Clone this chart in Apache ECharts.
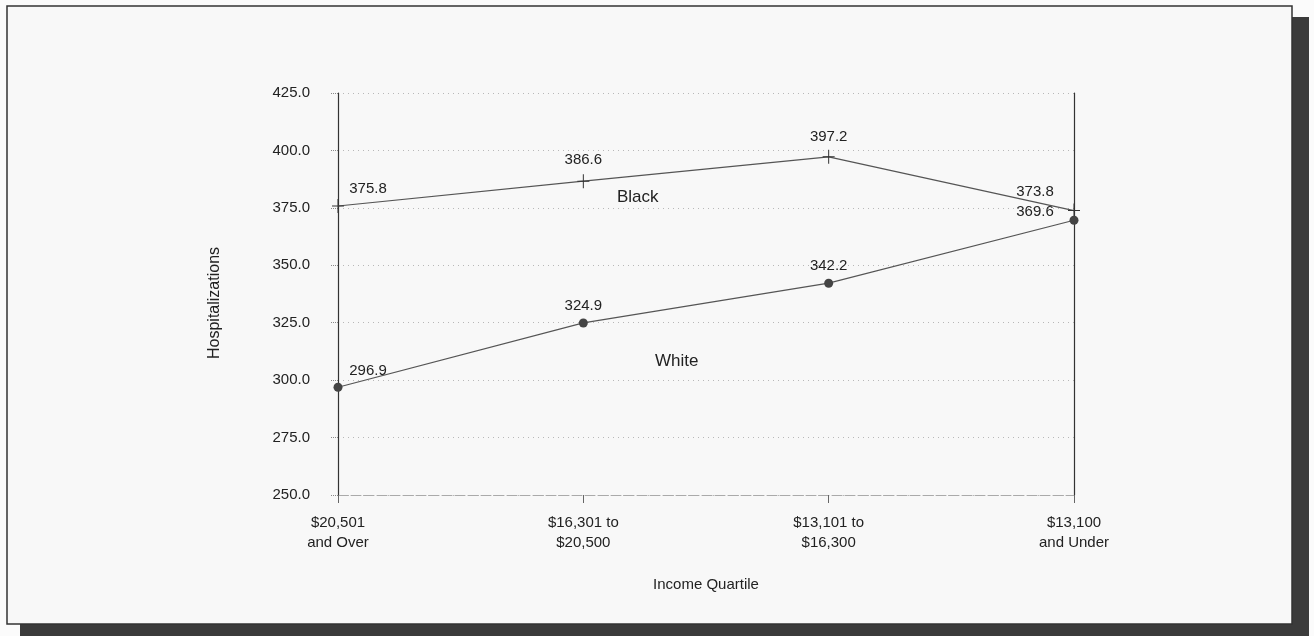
<!DOCTYPE html>
<html>
<head>
<meta charset="utf-8">
<script src="https://cdn.jsdelivr.net/npm/echarts@6/dist/echarts.min.js"></script>
<style>
  html, body { margin: 0; padding: 0; background: #fbfbfb; }
  #chart { width: 1314px; height: 636px; }
</style>
</head>
<body>
<div id="chart"></div>
<script>
// Income quartiles along the x axis
const categories = ['$20,501\nand Over', '$16,301 to\n$20,500', '$13,101 to\n$16,300', '$13,100\nand Under'];
// Hospitalizations by race
const blackValues = [375.8, 386.6, 397.2, 373.8];
const whiteValues = [296.9, 324.9, 342.2, 369.6];
// Y axis range
const yMin = 250, yMax = 425, yStep = 25;

const FONT = '"Liberation Sans", Arial, sans-serif';
const INK = '#222';
const LINE = '#555';

const chart = echarts.init(document.getElementById('chart'), null, { renderer: 'canvas' });

const labelStyle = { color: INK, fontFamily: FONT, fontSize: 15 };

function pointLabels(values, offsets) {
  return values.map((v, i) => ({
    value: v,
    label: Object.assign({ show: true, position: 'inside', offset: offsets[i],
      formatter: p => p.value.toFixed(1) }, labelStyle)
  }));
}

chart.setOption({
  animation: false,
  backgroundColor: '#fbfbfb',
  graphic: [
    // drop shadow behind the panel
    { type: 'rect', z: -10, shape: { x: 1292, y: 17, width: 17, height: 619 }, style: { fill: '#3b3b3b' } },
    { type: 'rect', z: -10, shape: { x: 20, y: 624, width: 1289, height: 12 }, style: { fill: '#3b3b3b' } },
    // panel
    { type: 'rect', z: -9, shape: { x: 7, y: 6, width: 1285, height: 618 },
      style: { fill: '#f8f8f8', stroke: '#333', lineWidth: 1.5 } },
    // series names
    { type: 'text', z: 10, left: 617, top: 189, style: { text: 'Black', fill: INK, font: '17px ' + FONT } },
    { type: 'text', z: 10, left: 655, top: 353, style: { text: 'White', fill: INK, font: '17px ' + FONT } },
    // y axis title
    { type: 'text', z: 10, x: 215, y: 303, rotation: Math.PI / 2,
      style: { text: 'Hospitalizations', fill: INK, font: '16px ' + FONT, align: 'center', verticalAlign: 'middle' } }
  ],
  grid: { left: 338, right: 240, top: 93, bottom: 141, containLabel: false },
  xAxis: {
    type: 'category',
    data: categories,
    boundaryGap: false,
    name: 'Income Quartile',
    nameLocation: 'middle',
    nameGap: 82,
    nameTextStyle: { color: INK, fontFamily: FONT, fontSize: 15 },
    axisLine: { lineStyle: { color: '#aaa', type: [10, 3], width: 1 } },
    axisTick: { show: true, length: 8, lineStyle: { color: '#666' } },
    axisLabel: { color: INK, fontFamily: FONT, fontSize: 15, lineHeight: 20, margin: 18 },
    splitLine: { show: false }
  },
  yAxis: [{
    type: 'value',
    min: yMin, max: yMax, interval: yStep,
    axisLine: { show: true, lineStyle: { color: '#333', width: 1.2 } },
    axisTick: { show: true, length: 8, lineStyle: { color: '#888', type: 'dotted' } },
    axisLabel: { color: INK, fontFamily: FONT, fontSize: 15, margin: 28, formatter: v => v.toFixed(1) },
    splitLine: { show: true, lineStyle: { color: '#b8b8b8', type: [1, 4], width: 1 } }
  }, {
    type: 'value',
    position: 'right',
    min: yMin, max: yMax, interval: yStep,
    axisLine: { show: true, lineStyle: { color: '#333', width: 1.2 } },
    axisTick: { show: false },
    axisLabel: { show: false },
    splitLine: { show: false }
  }],
  series: [{
    name: 'Black',
    type: 'line',
    data: pointLabels(blackValues, [[30, -17], [0, -21], [0, -20], [-39, -19]]),
    symbol: 'path://M0,6.5h12v1h-12z M5.5,0h1v14h-1z',
    symbolSize: [12, 14],
    itemStyle: { color: '#333' },
    lineStyle: { color: LINE, width: 1.2 },
    z: 3
  }, {
    name: 'White',
    type: 'line',
    data: pointLabels(whiteValues, [[30, -16], [0, -17], [0, -17], [-39, -8]]),
    symbol: 'circle',
    symbolSize: 9,
    itemStyle: { color: '#444' },
    lineStyle: { color: LINE, width: 1.2 },
    z: 3
  }]
});
</script>
</body>
</html>
